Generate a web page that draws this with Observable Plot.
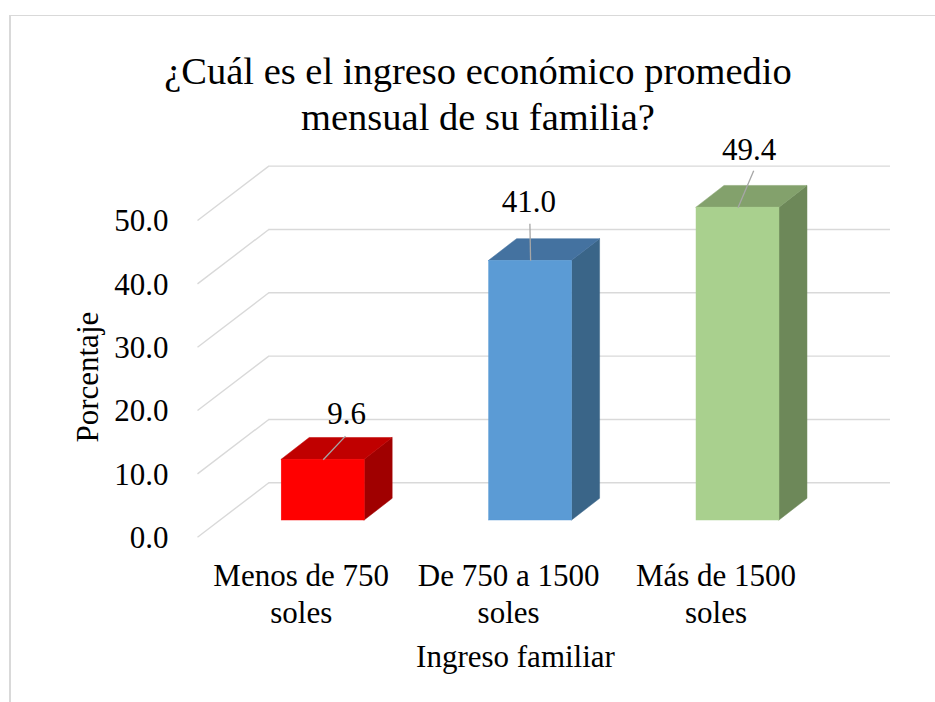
<!DOCTYPE html>
<html><head><meta charset="utf-8">
<script src="https://cdn.jsdelivr.net/npm/d3@7"></script>
<script src="https://cdn.jsdelivr.net/npm/@observablehq/plot@0.6"></script>
<style>
body{margin:0;background:#fff;}
#wrap{position:relative;width:935px;height:702px;overflow:hidden;background:#fff;}
#frame{position:absolute;left:9px;top:15px;width:1000px;height:1000px;border-left:2px solid #d9d9d9;border-top:1.5px solid #d9d9d9;}
#title{position:absolute;left:0;top:0;width:956px;padding-top:48px;text-align:center;font-family:'Liberation Serif','Times New Roman',serif;font-weight:normal;font-size:38.5px;line-height:46px;color:#000;}
#chart{position:absolute;left:0;top:130px;}
</style></head>
<body><div id="wrap"><div id="frame"></div><div id="title">¿Cuál es el ingreso económico promedio<br>mensual de su familia?</div><div id="chart"></div></div>
<script>
// ---- data ----
const categories = ["Menos de 750\nsoles", "De 750 a 1500\nsoles", "Más de 1500\nsoles"];
const values = [9.6, 41.0, 49.4];
const valueLabels = ["9.6", "41.0", "49.4"];
const yTicks = [0, 10, 20, 30, 40, 50];
const yTickLabels = ["0.0", "10.0", "20.0", "30.0", "40.0", "50.0"];
const xTitle = "Ingreso familiar";
const yTitle = "Porcentaje";

// ---- styles ----
const frontColors = ["#FF0000", "#5B9BD5", "#A9D08E"];
const topColors = ["#C00000", "#4472A0", "#83A16C"];
const sideColors = ["#A00000", "#3A6588", "#6D8859"];
const labelShift = [[23.3, -36], [-1.7, -48.6], [11, -48]];   // px, label baseline vs bar top
const leaderEnd = [[22.3, -23.6], [-0.7, -37], [15.7, -37]];     // px
const gridColor = "#d9d9d9";

// ---- layout ----
const W = 935, H = 572, ML = 219, MR = 93.8, MT = 73.33, MB = 182;
const kx = (W - ML - MR) / 3;
const ky = (H - MT - MB) / 50;
const dX = 28 / kx, dY = 21.7 / ky;      // bar depth
const barHalf = 0.2;
const font = 31;

const marks = [];
// gridlines: side wall diagonals + back wall horizontals
marks.push(Plot.link(yTicks, {
  x1: () => -22 / kx, y1: d => d - 16.7 / ky,
  x2: () => 49.3 / kx, y2: d => d + 37.7 / ky,
  stroke: gridColor, strokeWidth: 1.4
}));
marks.push(Plot.ruleY(yTicks, {
  y: d => d, x1: () => 49.3 / kx, x2: () => (890 - ML) / kx, dy: -37.7,
  stroke: gridColor, strokeWidth: 1.4
}));

// 3D bars
values.forEach((v, i) => {
  const xa = i + 0.5 - barHalf, xb = i + 0.5 + barHalf;
  const side = [{x: xb, y1: 0, y2: v}, {x: xb + dX, y1: dY, y2: v + dY}];
  const top = [{y: v, x1: xa, x2: xb}, {y: v + dY, x1: xa + dX, x2: xb + dX}];
  const front = [{x1: xa, x2: xb, y1: 0, y2: v}];
  marks.push(Plot.areaY(side, {x: "x", y1: "y1", y2: "y2", fill: sideColors[i], stroke: sideColors[i], strokeWidth: 0.5}));
  marks.push(Plot.areaX(top, {y: "y", x1: "x1", x2: "x2", fill: topColors[i], stroke: topColors[i], strokeWidth: 0.5}));
  marks.push(Plot.rect(front, {x1: "x1", x2: "x2", y1: "y1", y2: "y2", fill: frontColors[i], stroke: frontColors[i], strokeWidth: 0.5}));
});

// leader lines and value labels
marks.push(Plot.link(values, {
  x1: (d, i) => i + 0.5, y1: d => d,
  x2: (d, i) => i + 0.5 + leaderEnd[i][0] / kx, y2: (d, i) => d - leaderEnd[i][1] / ky,
  stroke: "#a6a6a6", strokeWidth: 1.3
}));
marks.push(Plot.text(values, {
  x: (d, i) => i + 0.5 + labelShift[i][0] / kx, y: (d, i) => d - labelShift[i][1] / ky,
  text: (d, i) => valueLabels[i], lineAnchor: "bottom", textAnchor: "middle", fontSize: font, fill: "#000"
}));

// y tick labels
marks.push(Plot.text(yTicks, {
  frameAnchor: "left", y: d => d, text: (d, i) => yTickLabels[i],
  textAnchor: "end", lineAnchor: "bottom", dx: -51, dy: 27.5, fontSize: font, fill: "#000"
}));
// category labels
marks.push(Plot.text(categories, {
  frameAnchor: "bottom", x: (d, i) => i + 0.5, text: d => d,
  textAnchor: "middle", lineAnchor: "bottom", lineHeight: 1.184, dx: -22, dy: 102.5, fontSize: font, fill: "#000"
}));
// axis titles
marks.push(Plot.text([xTitle], {
  frameAnchor: "bottom", text: d => d, textAnchor: "middle", lineAnchor: "bottom",
  dx: 515 - (ML + (W - MR)) / 2, dy: 146.7, fontSize: font, fill: "#000"
}));
marks.push(Plot.text([yTitle], {
  frameAnchor: "left", text: d => d, rotate: -90, textAnchor: "middle", lineAnchor: "bottom",
  dx: -122, dy: 15, fontSize: font, fill: "#000"
}));

const chart = Plot.plot({
  width: W, height: H,
  marginLeft: ML, marginRight: MR, marginTop: MT, marginBottom: MB,
  x: {domain: [0, 3], axis: null},
  y: {domain: [0, 50], axis: null},
  style: {fontFamily: "'Liberation Serif','Times New Roman',serif", fontSize: font + "px", background: "transparent", overflow: "visible", color: "#000"},
  marks
});
document.getElementById("chart").appendChild(chart);
</script>
</body></html>
